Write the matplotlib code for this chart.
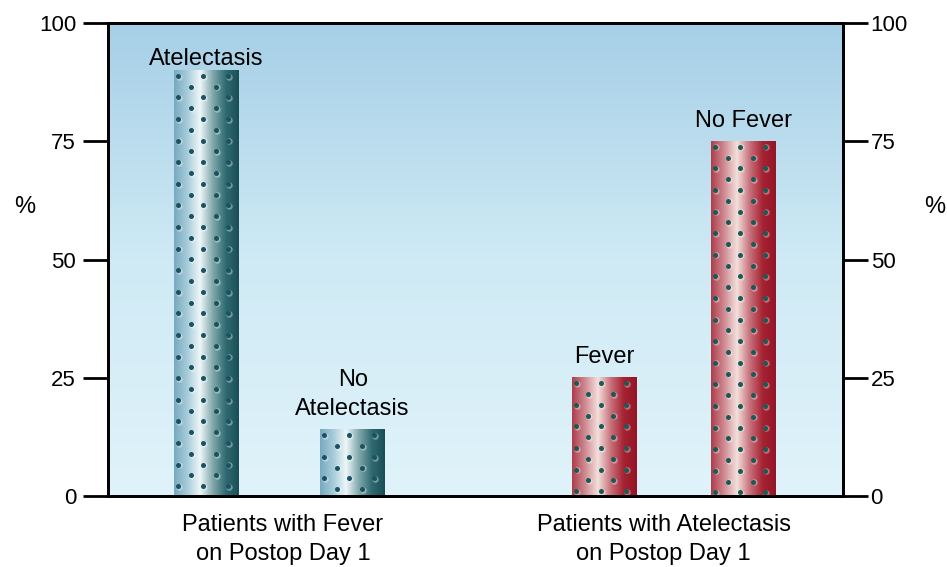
import numpy as np
import matplotlib
matplotlib.use("Agg")
import matplotlib.pyplot as plt
from matplotlib.colors import LinearSegmentedColormap

plt.rcParams['font.family'] = ['Liberation Sans', 'DejaVu Sans']

# ---- data ----
bar_labels = ["Atelectasis", "No\nAtelectasis", "Fever", "No Fever"]
values = [90, 14, 25, 75]
group_labels = ["Patients with Fever\non Postop Day 1",
                "Patients with Atelectasis\non Postop Day 1"]
yticks = [0, 25, 50, 75, 100]
ylabel = "%"

# ---- layout / style ----
positions = [0.134, 0.333, 0.675, 0.865]
group_pos = [0.238, 0.756]
label_offset = [0.0, 2.0, 2.0, 2.0]
bar_w = 0.088
bar_kind = ["blue", "blue", "red", "red"]

cmaps = {
    "blue": LinearSegmentedColormap.from_list(
        "b", ["#78a9c0", "#a5cbd9", "#eef6f8", "#80a8ac", "#2f6a70", "#1a4e56"]),
    "red": LinearSegmentedColormap.from_list(
        "r", ["#ad3c4a", "#cf8a92", "#f3e0dc", "#c7707a", "#a52232", "#931626"]),
}
dot_color = {"blue": "#1a5262", "red": "#1a5a56"}

fig = plt.figure(figsize=(9.47, 5.67), dpi=100)
ax = fig.add_axes([0.114, 0.1252, 0.776, 0.834])
ax.set_xlim(0, 1)
ax.set_ylim(0, 100)

# background gradient
bg = LinearSegmentedColormap.from_list("bg", ["#e0f3fa", "#cfeaf5", "#a6cfe7"])
grad = np.linspace(0, 1, 256).reshape(-1, 1)
ax.imshow(grad, cmap=bg, aspect="auto", extent=(0, 1, 0, 100),
          origin="lower", zorder=0)

hgrad = np.linspace(0, 1, 256).reshape(1, -1)
fig_w_px = 947 * 0.776
fig_h_px = 567 * 0.834
for x, v, kind, lab, off_lab in zip(positions, values, bar_kind, bar_labels,
                                    label_offset):
    x0, x1 = x - bar_w / 2, x + bar_w / 2
    ax.imshow(hgrad, cmap=cmaps[kind], aspect="auto",
              extent=(x0, x1, 0, v), zorder=2)
    # dot pattern
    dx = 12.5 / fig_w_px
    dy_units = 10.8 / fig_h_px * 100
    xs, ys = [], []
    row = 0
    y = v - dy_units * 0.5
    while y > 0.6:
        off = 0 if row % 2 == 0 else dx
        xx = x0 + 4 / fig_w_px + off
        while xx < x1 - 2 / fig_w_px:
            xs.append(xx)
            ys.append(y)
            xx += dx * 2
        y -= dy_units
        row += 1
    xs = np.array(xs)
    ys = np.array(ys)
    ax.scatter(xs + 1.0 / fig_w_px, ys - 0.15, s=22, color="white",
               alpha=0.35, zorder=3, linewidths=0)
    ax.scatter(xs, ys, s=13, color=dot_color[kind], zorder=3, linewidths=0)
    ax.text(x, v + off_lab, lab, ha="center", va="bottom", fontsize=17,
            linespacing=1.45, zorder=4)

for sp in ax.spines.values():
    sp.set_linewidth(2)
ax.set_xticks([])
ax.set_yticks(yticks)
ax.tick_params(axis="y", length=18, width=2, labelsize=16, pad=5)
ax.set_ylabel(ylabel, fontsize=17, rotation=0, va="center", ha="center")
ax.yaxis.set_label_coords(-0.113, 0.611)

ax2 = ax.twinx()
ax2.set_ylim(0, 100)
ax2.set_yticks(yticks)
ax2.tick_params(axis="y", length=18, width=2, labelsize=16, pad=2)
for sp in ax2.spines.values():
    sp.set_linewidth(2)
ax2.set_ylabel(ylabel, fontsize=17, rotation=0, va="center", ha="center")
ax2.yaxis.set_label_coords(1.125, 0.611)

for gx, gl in zip(group_pos, group_labels):
    ax.text(gx, -3.8, gl, ha="center", va="top", fontsize=17,
            linespacing=1.42, transform=ax.transData, clip_on=False)

fig.savefig("out.png", dpi=100)
